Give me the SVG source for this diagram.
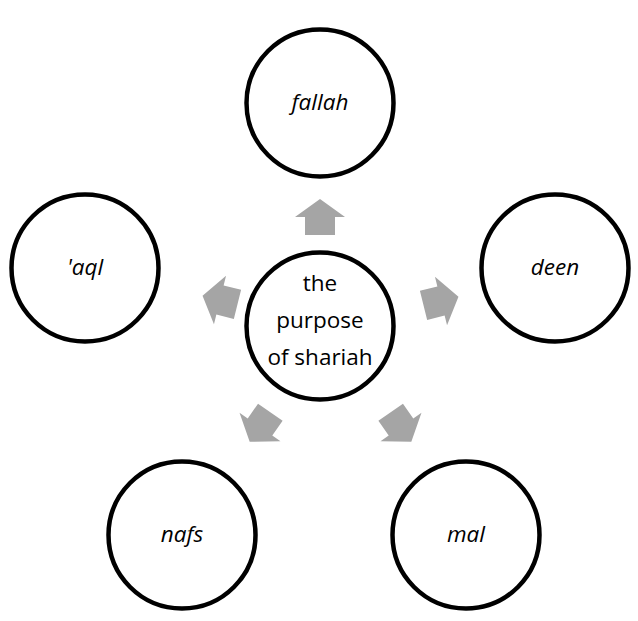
<svg xmlns="http://www.w3.org/2000/svg" width="638" height="621" viewBox="0 0 638 621">
<style>
.node{fill:#ffffff;stroke:#000000;stroke-width:4.5}
.lbl{font-family:"Open Sans","Noto Sans",sans-serif;font-size:22.5px;fill:#000000;text-anchor:middle}
.it{font-style:italic}
.arr{fill:#A5A5A5}
</style>
<defs>
<path id="arrow" class="arr" d="M0,-18 L25,0 L15,0 L15,18 L-15,18 L-15,0 L-25,0 Z"/>
</defs>
<rect width="638" height="621" fill="#ffffff"/>
<g id="connectors">
<use href="#arrow" transform="translate(320,217) rotate(0)"/>
<use href="#arrow" transform="translate(441,301) rotate(76)"/>
<use href="#arrow" transform="translate(401,427) rotate(145)"/>
<use href="#arrow" transform="translate(260,427) rotate(-145)"/>
<use href="#arrow" transform="translate(220,300) rotate(-76)"/>
</g>
<g id="center">
<circle class="node" cx="320" cy="326" r="73.5"/>
<text class="lbl" x="320" y="291">the</text>
<text class="lbl" x="320" y="328">purpose</text>
<text class="lbl" x="320" y="365">of shariah</text>
</g>
<g id="fallah">
<circle class="node" cx="320" cy="103" r="73.5"/>
<text class="lbl it" x="320" y="110">fallah</text>
</g>
<g id="deen">
<circle class="node" cx="555" cy="268" r="73.5"/>
<text class="lbl it" x="555" y="275">deen</text>
</g>
<g id="aql">
<circle class="node" cx="85" cy="268" r="73.5"/>
<text class="lbl it" x="85" y="275">'aql</text>
</g>
<g id="mal">
<circle class="node" cx="466" cy="535" r="73.5"/>
<text class="lbl it" x="466" y="542">mal</text>
</g>
<g id="nafs">
<circle class="node" cx="182" cy="535" r="73.5"/>
<text class="lbl it" x="182" y="542">nafs</text>
</g>
</svg>
